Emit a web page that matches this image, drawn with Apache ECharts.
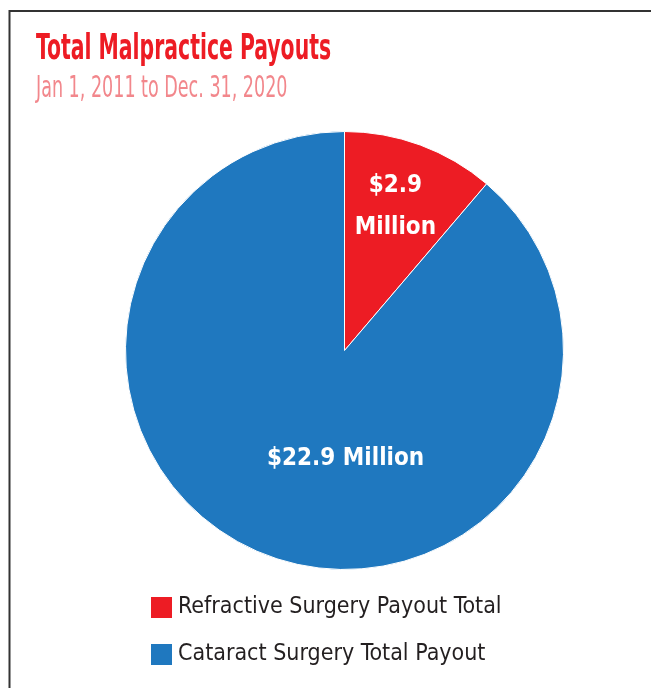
<!DOCTYPE html>
<html>
<head>
<meta charset="utf-8">
<script src="https://cdn.jsdelivr.net/npm/echarts@6/dist/echarts.min.js"></script>
<style>
html,body{margin:0;padding:0;background:#fff;}
#chart{width:651px;height:688px;}
</style>
</head>
<body>
<div id="chart"></div>
<script>
const titleText = 'Total Malpractice Payouts';
const subtitleText = 'Jan 1, 2011 to Dec. 31, 2020';
const categories = ['Refractive Surgery Payout Total', 'Cataract Surgery Total Payout'];
const values = [2.9, 22.9];
const valueLabels = ['$2.9\nMillion', '$22.9 Million'];
const colors = ['#ED1C24', '#1F78BF'];

const FONT = '"DejaVu Sans Condensed", "Liberation Sans Narrow", sans-serif';
const labelShift = [[12, -38], [40, 3]];

const chart = echarts.init(document.getElementById('chart'), null, {renderer: 'canvas'});
chart.setOption({
  backgroundColor: '#fff',
  animation: false,
  color: colors,
  graphic: [
    {type: 'rect', shape: {x: 9.5, y: 11, width: 800, height: 800}, style: {fill: 'none', stroke: '#333', lineWidth: 2}, silent: true},
    {type: 'text', x: 36, y: 50, scaleX: 0.63, style: {text: titleText, fill: '#ED1C24', font: 'bold 36px ' + FONT, verticalAlign: 'middle', align: 'left'}},
    {type: 'text', x: 36, y: 89, scaleX: 0.65, style: {text: subtitleText, fill: '#F2878C', font: 'normal 30px ' + FONT, verticalAlign: 'middle', align: 'left'}}
  ],
  legend: {
    orient: 'vertical',
    left: 149,
    top: 595,
    padding: 0,
    itemWidth: 23,
    itemHeight: 23,
    itemGap: 22,
    icon: 'rect',
    selectedMode: false,
    textStyle: {fontFamily: FONT, fontSize: 23, color: '#231F20', lineHeight: 23},
    data: categories
  },
  series: [{
    type: 'pie',
    center: [344.5, 350.5],
    radius: [0, 219],
    startAngle: 90,
    clockwise: true,
    silent: true,
    itemStyle: {borderColor: '#fff', borderWidth: 1},
    label: {
      show: true,
      position: 'inside',
      color: '#fff',
      fontFamily: FONT,
      fontWeight: 'bold',
      fontSize: 24,
      lineHeight: 42,
      align: 'center',
      formatter: p => valueLabels[p.dataIndex]
    },
    labelLine: {show: false},
    labelLayout: p => ({dx: labelShift[p.dataIndex][0], dy: labelShift[p.dataIndex][1]}),
    data: categories.map((c, i) => ({name: c, value: values[i]}))
  }]
});
</script>
</body>
</html>
